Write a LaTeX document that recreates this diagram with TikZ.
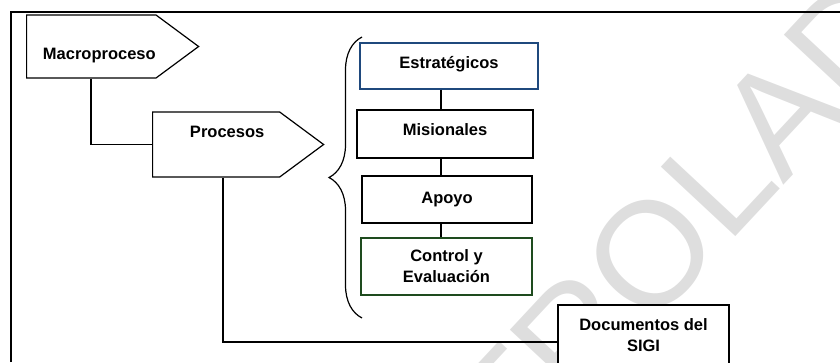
\documentclass[tikz,border=0pt]{standalone}
\usepackage{fontspec}
\setmainfont{Liberation Sans}
\usetikzlibrary{shapes.symbols,decorations.pathreplacing}
\definecolor{estblue}{RGB}{31,73,125}
\definecolor{ctlgreen}{RGB}{30,75,30}
\tikzset{
    lbl/.style={font=\bfseries\fontsize{16.5}{21}\selectfont},
    flecha/.style={lbl, draw, line width=1.2pt, fill=white, signal, signal to=east,
        signal pointer angle=73, anchor=west, inner sep=0pt},
    caja/.style={lbl, draw, line width=1.2pt, fill=white, align=center, inner sep=0pt},
    linea/.style={line width=1.2pt}
}
\begin{document}
\begin{tikzpicture}[x=1pt,y=-1pt]
    \useasboundingbox (0,0) rectangle (840,362);
    % marca de agua
    \begin{scope}
      \clip (0,0) rectangle (840,362);
      \node[rotate=47, anchor=base west, text=black!13, inner sep=0pt,
          font=\fontsize{148}{148}\selectfont] (marca) at (290,715) {CONTROLADA};
    \end{scope}
    \draw[line width=1.6pt] (11,362) -- (11,12) -- (840,12);
    \node[flecha, minimum width=172pt, minimum height=63pt, text height=29pt, text depth=3.5pt]
        (macro) at (26,46.5) {\hspace*{16pt}Macroproceso};
    \node[flecha, minimum width=171pt, minimum height=65pt, text height=12pt, text depth=26.5pt]
        (proc) at (152,144.5) {\hspace*{22pt}Procesos};
    \node[caja, draw=estblue, minimum width=178pt, minimum height=46pt, text depth=7.5pt] (est) at (449,66) {Estratégicos};
    \node[caja, minimum width=176pt, minimum height=48pt, text depth=8pt] (mis) at (445,134) {Misionales};
    \node[caja, minimum width=170pt, minimum height=47pt] (apo) at (447,199.5) {Apoyo};
    \node[caja, draw=ctlgreen, minimum width=171pt, minimum height=57pt] (ctl) at (446.5,266.5) {Control y\\Evaluación};
    \node[caja, minimum width=171pt, minimum height=60pt] (docs) at (643.5,335) {Documentos del\\SIGI};
    \coordinate (eje) at (441,0);
    \draw[linea] (macro.south west) ++(65,0) |- (proc.west);
    \draw[linea] (proc.south west) ++(71,0) |- ([yshift=-7pt]docs.west);
    \foreach \a/\b in {est/mis,mis/apo,apo/ctl}
      \draw[linea] (\a.south -| eje) -- (\b.north -| eje);
    \draw[linea, decorate, decoration={brace, amplitude=33pt}] (362,318) -- (362,37);
\end{tikzpicture}
\end{document}
